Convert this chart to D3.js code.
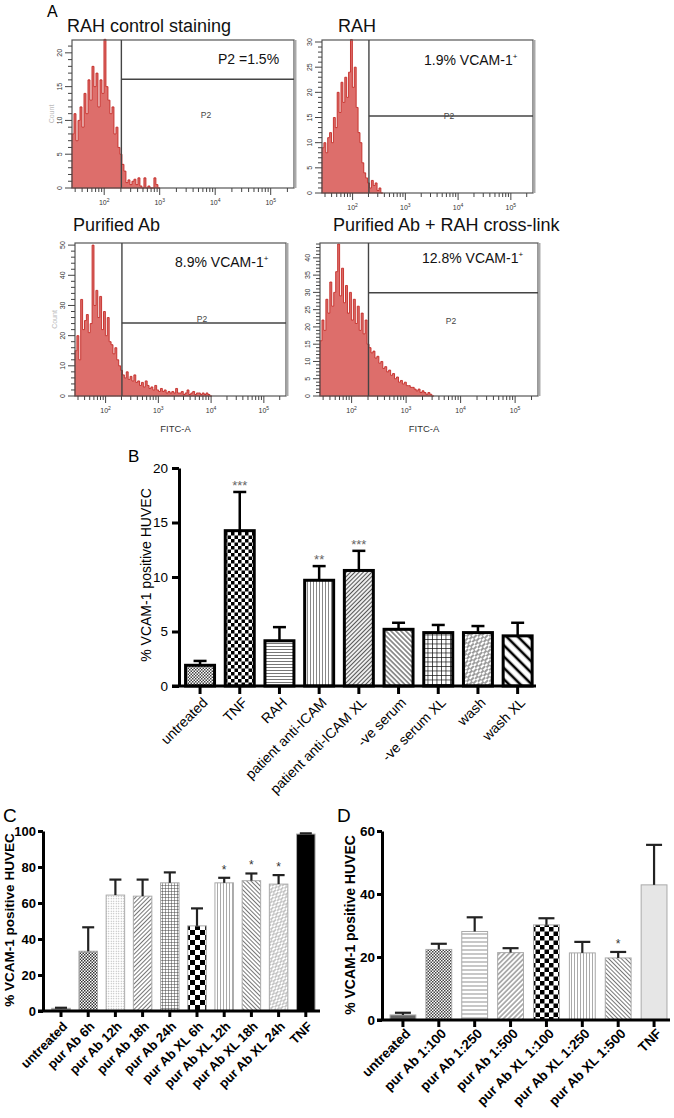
<!DOCTYPE html>
<html>
<head>
<meta charset="utf-8">
<script src="https://cdn.jsdelivr.net/npm/d3@7/dist/d3.min.js"></script>
<style>
  body{margin:0;background:#fff}
  svg{display:block}
</style>
</head>
<body>
<div id="fig"></div>
<script>
// ---- panel A : flow cytometry histograms (counts per log bin) ----
const hDomain = [Math.pow(10, 1.42), Math.pow(10, 5.42)];
const hBinStart = 1.42;   // log10 of first bin edge
const hBinStep = 0.036;   // bin width in decades
const gateValue = 204;    // P2 gate lower bound (FITC-A)

const h1Counts = [8,11,7,10,12,9,14,11,16,13,18,15,17,12,16,14,22,15,13,11,12,8,9,6,5,3.5,2.5,0.8,1.2,0.5,1,1.3,0.5,1.5,0.3,0,1.5,0,0.3,0,0,1.5,0.5,0];
const h2Counts = [9,10,8,11,12,10,15,13,20,16,22,18,23,19,24,30.5,21,25,17,12,10,6,4,3,2,1,2.5,1.5,2,0.5,1,0];
const h3Counts = [15,20,12,32,22,25,27,21,24,50,30,35,26,33,22,28,20,26,18,17,14,16,12,10,8.5,7,6,8,5.5,6.5,5,7,4.5,5,3.5,4.5,3,5,3.5,2.5,3,2,3.5,2,1.5,2.5,1.5,2,1,1.5,1,1.5,1,2.5,1,1,1.5,0.5,1,2,0.5,1,1.5,0.5,1,1,0.5,1,0.5,1,0.5,0];
const h4Counts = [16,22,19,28,24,33,26,30,36,44,29,37,27,32,24,30,22,28,21,26,19,24,18,22,15,14,12.5,13,11,11.5,9.5,10,8,8.5,7,7.5,6,6.5,5,5.5,4,4.5,3.5,4,3,3,2.5,2.5,2,1.5,2,1,1.5,1,0.5,1,0.5,0];

const hTitles = ["RAH control staining", "RAH", "Purified Ab", "Purified Ab + RAH cross-link"];
const hNotes = ["P2 =1.5%", "1.9% VCAM-1", "8.9% VCAM-1", "12.8% VCAM-1"];
const hGateLevel = [16.1, 15.3, 24.2, 29.9];
const hYMax = [21.9, 30.4, 50.7, 44.3];

// ---- panel B ----
const catB = ["untreated","TNF","RAH","patient anti-ICAM","patient anti-ICAM XL","-ve serum","-ve serum XL","wash","wash XL"];
const meanB = [1.9, 14.25, 4.15, 9.7, 10.6, 5.2, 4.9, 4.9, 4.6];
const errB  = [2.3, 17.8, 5.4, 11.0, 12.4, 5.8, 5.6, 5.5, 5.8];
const starsB = ["","***","","**","***","","","",""];
const ticksB = [0,5,10,15,20];

// ---- panel C ----
const catC = ["untreated","pur Ab 6h","pur Ab 12h","pur Ab 18h","pur Ab 24h","pur Ab XL 6h","pur Ab XL 12h","pur Ab XL 18h","pur Ab XL 24h","TNF"];
const meanC = [1.5, 33.2, 64.4, 63.8, 71.2, 47.3, 71.2, 72.4, 70.5, 98.3];
const errC  = [1.8, 46.5, 73, 73, 77, 57, 74, 76.4, 75.5, 98.7];
const starsC = ["","","","","","","*","*","*",""];
const ticksC = [0,20,40,60,80,100];

// ---- panel D ----
const catD = ["untreated","pur Ab 1:100","pur Ab 1:250","pur Ab 1:500","pur Ab XL 1:100","pur Ab XL 1:250","pur Ab XL 1:500","TNF"];
const meanD = [1.6, 22.4, 28.1, 21.4, 30.2, 21.3, 19.7, 42.9];
const errD  = [2.3, 24.2, 32.6, 22.8, 32.3, 24.8, 21.6, 55.6];
const starsD = ["","","","","","","*",""];
const ticksD = [0,20,40,60];

const FONT = "'Liberation Sans', Arial, Helvetica, sans-serif";

const svg = d3.select("#fig").append("svg")
  .attr("width", 674).attr("height", 1118)
  .attr("font-family", FONT);
const defs = svg.append("defs");

// ---------- patterns ----------
function pattern(id, w, h, rot){
  const p = defs.append("pattern").attr("id", id)
    .attr("patternUnits","userSpaceOnUse").attr("width", w).attr("height", h);
  if(rot) p.attr("patternTransform", `rotate(${rot})`);
  p.append("rect").attr("width", w).attr("height", h).attr("fill", "#fff");
  return p;
}
function lines(id, s, lw, color, rot, dash){
  const p = pattern(id, s, s, rot);
  const l = p.append("line").attr("x1", s/2).attr("x2", s/2).attr("y1", 0).attr("y2", s)
    .attr("stroke", color).attr("stroke-width", lw);
  if(dash){
    p.attr("height", s*2);
    p.select("rect").attr("height", s*2);
    l.attr("y2", s*1.2);
    p.append("line").attr("x1", 0).attr("x2", 0).attr("y1", s).attr("y2", s*2.2)
      .attr("stroke", color).attr("stroke-width", lw);
    p.append("line").attr("x1", s).attr("x2", s).attr("y1", s).attr("y2", s*2.2)
      .attr("stroke", color).attr("stroke-width", lw);
  }
  return "url(#" + id + ")";
}
function checker(id, s, color){
  const p = pattern(id, 2*s, 2*s);
  p.append("rect").attr("width", s).attr("height", s).attr("fill", color);
  p.append("rect").attr("x", s).attr("y", s).attr("width", s).attr("height", s).attr("fill", color);
  return "url(#" + id + ")";
}
function grid(id, s, lw, color){
  const p = pattern(id, s, s);
  p.append("path").attr("d", `M0,0H${s}M0,0V${s}`).attr("stroke", color).attr("stroke-width", lw*2).attr("fill","none");
  return "url(#" + id + ")";
}
function dots(id, s, r, color){
  const p = pattern(id, s, s);
  p.append("circle").attr("cx", s/2).attr("cy", s/2).attr("r", r).attr("fill", color);
  return "url(#" + id + ")";
}

const fillB = [
  checker("b0", 1.5, "#444"),
  checker("b1", 3.5, "#000"),
  lines("b2", 3, 1, "#777", 90),
  lines("b3", 3, 1, "#888", 0),
  lines("b4", 3, 1.2, "#555", 45),
  lines("b5", 3.5, 1.2, "#555", -45),
  grid("b6", 4.5, 0.7, "#111"),
  lines("b7", 4, 1.3, "#666", 45, true),
  lines("b8", 8, 2.6, "#000", -45)
];
const fillC = [
  "#9a9a9a",
  checker("c1", 1.5, "#333"),
  dots("c2", 2.5, 0.6, "#aaa"),
  lines("c3", 3, 1, "#777", 45),
  grid("c4", 3, 0.5, "#444"),
  checker("c5", 5, "#000"),
  lines("c6", 3, 1, "#aaa", 0),
  lines("c7", 3, 1, "#777", -45),
  lines("c8", 3.5, 1, "#999", 45, true),
  "#000"
];
const fillD = [
  "#666",
  checker("d1", 1.5, "#444"),
  lines("d2", 4, 1.3, "#aaa", 90),
  lines("d3", 3.5, 1.1, "#777", 45),
  checker("d4", 4.5, "#000"),
  lines("d5", 3, 1, "#aaa", 0),
  lines("d6", 3, 1, "#777", -45),
  "#e6e6e6"
];

// ---------- panel A ----------
const hLayout = [
  {left:72,  top:40,  right:294, bottom:188, major:5,  minor:1, tx:67,  ty:32,  nx:218, ny:64,  sup:false, px:206, py:118, fitc:false},
  {left:322, top:40,  right:533, bottom:193, major:5,  minor:1, tx:338, ty:32,  nx:424, ny:65,  sup:true,  px:449, py:119, fitc:false},
  {left:75,  top:243, right:286, bottom:396, major:10, minor:2, tx:73,  ty:231, nx:175, ny:267, sup:true,  px:202, py:322, fitc:true},
  {left:320, top:243, right:538, bottom:396, major:5,  minor:1, tx:333, ty:231, nx:422, ny:263, sup:true,  px:451, py:324, fitc:true}
];
const hCounts = [h1Counts, h2Counts, h3Counts, h4Counts];

function histCreate(i){
  const h = hLayout[i];
  const counts = hCounts[i];
  const x = d3.scaleLog().domain(hDomain).range([h.left, h.right]);
  const y = d3.scaleLinear().domain([0, hYMax[i]]).range([h.bottom, h.top]);
  const g = svg.append("g");

  const bins = counts.map((c, k) => ({x: Math.pow(10, hBinStart + k*hBinStep), c: c}));
  bins.push({x: Math.pow(10, hBinStart + counts.length*hBinStep), c: 0});
  const area = d3.area().curve(d3.curveStepAfter)
    .x(d => x(d.x)).y0(h.bottom).y1(d => y(d.c));
  g.append("path").datum(bins).attr("d", area)
    .attr("fill", "#dd6e6b").attr("stroke", "#c42a26").attr("stroke-width", 0.9);

  // frame
  g.append("rect").attr("x", h.left).attr("y", h.top)
    .attr("width", h.right - h.left).attr("height", h.bottom - h.top)
    .attr("fill", "none").attr("stroke", "#555").attr("stroke-width", 1.2);
  g.append("line").attr("x1", h.right + 1.5).attr("x2", h.right + 1.5)
    .attr("y1", h.top).attr("y2", h.bottom)
    .attr("stroke", "#aaa").attr("stroke-width", 2);

  // gate
  const gx = x(gateValue);
  g.append("line").attr("x1", gx).attr("x2", gx).attr("y1", h.top).attr("y2", h.bottom)
    .attr("stroke", "#444").attr("stroke-width", 1.4);
  g.append("line").attr("x1", gx).attr("x2", h.right).attr("y1", y(hGateLevel[i])).attr("y2", y(hGateLevel[i]))
    .attr("stroke", "#444").attr("stroke-width", 1.4);
  g.append("text").attr("x", h.px).attr("y", h.py).attr("text-anchor", "middle")
    .attr("font-size", 8.5).attr("fill", "#444").text("P2");

  // title + note
  g.append("text").attr("x", h.tx).attr("y", h.ty).attr("font-size", 18).attr("fill", "#111").text(hTitles[i]);
  const note = g.append("text").attr("x", h.nx).attr("y", h.ny).attr("font-size", 14).attr("fill", "#111").text(hNotes[i]);
  if(h.sup) note.append("tspan").attr("dy", -6).attr("font-size", 8).text("+");

  // y ticks
  const yt = d3.range(0, hYMax[i] + 1e-6, h.minor);
  g.selectAll("line.yt").data(yt).enter().append("line")
    .attr("x1", d => h.left - (d % h.major === 0 ? 7 : 4)).attr("x2", h.left)
    .attr("y1", d => y(d)).attr("y2", d => y(d))
    .attr("stroke", "#444").attr("stroke-width", 1);
  g.selectAll("text.yl").data(yt.filter(d => d % h.major === 0)).enter().append("text")
    .attr("transform", d => `translate(${h.left - 10},${y(d)}) rotate(-90)`)
    .attr("text-anchor", "middle").attr("font-size", 7).attr("fill", "#333")
    .text(d => d);

  // x ticks (log)
  const xt = x.ticks().filter(t => t >= hDomain[0] && t <= hDomain[1]);
  const isMajor = t => Math.abs(Math.log10(t) - Math.round(Math.log10(t))) < 1e-6;
  g.selectAll("line.xt").data(xt).enter().append("line")
    .attr("x1", d => x(d)).attr("x2", d => x(d))
    .attr("y1", h.bottom).attr("y2", d => h.bottom + (isMajor(d) ? 7 : 4))
    .attr("stroke", "#444").attr("stroke-width", 1);
  const lab = g.selectAll("text.xl").data(xt.filter(isMajor)).enter().append("text")
    .attr("x", d => x(d)).attr("y", h.bottom + 17)
    .attr("text-anchor", "middle").attr("font-size", 7).attr("fill", "#333");
  lab.append("tspan").text("10");
  lab.append("tspan").attr("dy", -3).attr("font-size", 5).text(d => Math.round(Math.log10(d)));

  if(h.fitc){
    g.append("text").attr("x", (h.left + h.right)/2 - 5).attr("y", h.bottom + 36)
      .attr("text-anchor", "middle").attr("font-size", 9.5).attr("fill", "#333").text("FITC-A");
  }
  if(i === 0 || i === 2){
    g.append("text").attr("transform", `translate(${h.left - 18},${(h.top + h.bottom)/2}) rotate(-90)`)
      .attr("text-anchor", "middle").attr("font-size", 7).attr("fill", "#bbb").text("Count");
  }
}
[0,1,2,3].forEach(histCreate);

svg.append("text").attr("x", 47).attr("y", 17).attr("font-size", 16).text("A");

// ---------- bar panels ----------
function barCreate(p, cats, means, errs, stars, ticks, fills){
  const x = d3.scaleBand().domain(cats).range(p.xr).paddingInner(p.pad).paddingOuter(p.pad/2);
  const y = d3.scaleLinear().domain([0, ticks[ticks.length-1]]).range([p.y0, p.y1]);
  const g = svg.append("g");
  const wt = p.bold ? "bold" : "normal";

  // bars
  g.selectAll("rect.bar").data(cats).enter().append("rect")
    .attr("x", d => x(d)).attr("width", x.bandwidth())
    .attr("y", (d, i) => y(means[i])).attr("height", (d, i) => p.y0 - y(means[i]))
    .attr("fill", (d, i) => fills[i])
    .attr("stroke", p.barStroke).attr("stroke-width", p.barStrokeW);

  // error bars (upper)
  const cx = d => x(d) + x.bandwidth()/2;
  g.selectAll("line.err").data(cats).enter().append("line")
    .attr("x1", cx).attr("x2", cx)
    .attr("y1", (d, i) => y(means[i])).attr("y2", (d, i) => y(errs[i]))
    .attr("stroke", p.errColor).attr("stroke-width", p.errW);
  g.selectAll("line.cap").data(cats).enter().append("line")
    .attr("x1", d => cx(d) - p.cap/2).attr("x2", d => cx(d) + p.cap/2)
    .attr("y1", (d, i) => y(errs[i])).attr("y2", (d, i) => y(errs[i]))
    .attr("stroke", p.errColor).attr("stroke-width", p.errW);

  // significance
  g.selectAll("text.star").data(cats).enter().append("text")
    .attr("x", cx).attr("y", (d, i) => y(errs[i]) - p.starGap)
    .attr("text-anchor", "middle").attr("font-size", p.starSize).attr("fill", p.starColor)
    .text((d, i) => stars[i]);

  // y axis
  const ya = g.append("g").attr("transform", `translate(${p.yx},0)`)
    .call(d3.axisLeft(y).tickValues(ticks).tickSize(p.tick).tickSizeOuter(0).tickPadding(p.tickPad));
  ya.select(".domain").attr("stroke", "#000").attr("stroke-width", p.axisW);
  ya.selectAll(".tick line").attr("stroke", "#000").attr("stroke-width", p.axisW);
  ya.selectAll(".tick text").attr("font-family", FONT).attr("font-size", p.tickFont)
    .attr("font-weight", wt).attr("fill", "#000");

  // x axis
  g.append("line").attr("x1", p.yx - p.tick).attr("x2", p.xEnd).attr("y1", p.y0).attr("y2", p.y0)
    .attr("stroke", "#000").attr("stroke-width", p.axisW);
  g.selectAll("line.xt").data(cats).enter().append("line")
    .attr("x1", cx).attr("x2", cx).attr("y1", p.y0).attr("y2", p.y0 + p.xtick)
    .attr("stroke", "#000").attr("stroke-width", p.axisW);
  g.selectAll("text.xl").data(cats).enter().append("text")
    .attr("transform", d => `translate(${cx(d) + p.lx},${p.y0 + p.ly}) rotate(-45)`)
    .attr("text-anchor", "end").attr("dy", "0.35em")
    .attr("font-size", p.labFont).attr("font-weight", wt).attr("fill", "#000")
    .text(d => d);

  // y label
  g.append("text").attr("transform", `translate(${p.ylx},${p.yly}) rotate(-90)`)
    .attr("text-anchor", "middle").attr("font-size", p.ylFont).attr("font-weight", wt)
    .text("% VCAM-1 positive HUVEC");

  g.append("text").attr("x", p.letterX).attr("y", p.letterY).attr("font-size", p.letterSize).text(p.letter);
}

barCreate({
  xr:[180.2, 537.5], pad:0.27, y0:686, y1:468, yx:179, xEnd:536,
  bold:false, barStroke:"#000", barStrokeW:3, errColor:"#000", errW:2.5, cap:13,
  starGap:2, starSize:13, starColor:"#666",
  tick:7, tickPad:4, axisW:3, tickFont:13.5, xtick:8, lx:5, ly:14, labFont:14,
  ylx:151, yly:575, ylFont:14, letter:"B", letterX:128, letterY:462, letterSize:17
}, catB, meanB, errB, starsB, ticksB, fillB);

barCreate({
  xr:[47.4, 319.4], pad:0.32, y0:1011, y1:831, yx:43, xEnd:320,
  bold:true, barStroke:"#aaa", barStrokeW:1, errColor:"#222", errW:2.2, cap:12,
  starGap:4, starSize:12, starColor:"#333",
  tick:5, tickPad:2, axisW:3, tickFont:13, xtick:6, lx:4, ly:13, labFont:13,
  ylx:14, yly:920, ylFont:13.5, letter:"C", letterX:3, letterY:822, letterSize:19
}, catC, meanC, errC, starsC, ticksC, fillC);

barCreate({
  xr:[385, 672], pad:0.28, y0:1020, y1:831, yx:382, xEnd:670,
  bold:true, barStroke:"#aaa", barStrokeW:1, errColor:"#222", errW:2.2, cap:16,
  starGap:4, starSize:12, starColor:"#333",
  tick:5, tickPad:2, axisW:3, tickFont:13.5, xtick:7, lx:5, ly:11, labFont:13.5,
  ylx:355, yly:925, ylFont:14, letter:"D", letterX:337, letterY:822, letterSize:19
}, catD, meanD, errD, starsD, ticksD, fillD);
</script>
</body>
</html>
